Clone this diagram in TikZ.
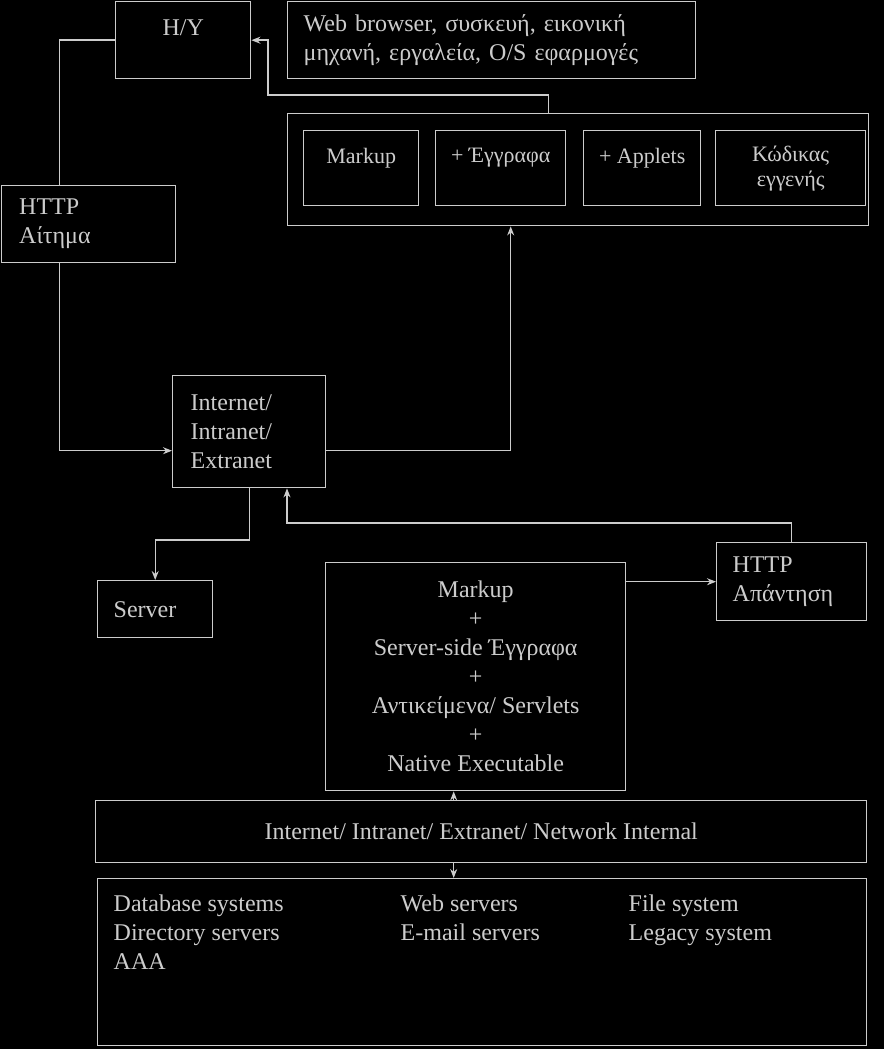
\documentclass[tikz,border=0pt]{standalone}
\usepackage{fontspec}
\setmainfont{Liberation Serif}
\usetikzlibrary{arrows, arrows.meta, positioning}
\definecolor{ink}{gray}{0.8}
\tikzstyle{box} = [rectangle, draw=ink, line width=1.4pt, text=ink, anchor=north west, inner sep=0pt, font=\fontsize{24}{29}\selectfont]
\tikzstyle{leftbox} = [box, align=left]
\tikzstyle{smallbox} = [box, minimum height=75pt, align=center, font=\fontsize{22}{25}\selectfont]
\tikzstyle{arrow} = [draw=ink, line width=1.4pt, ->, >={Stealth[length=9pt, width=7pt]}]
\tikzstyle{wire} = [draw=ink, line width=1.4pt]

\begin{document}
\begin{tikzpicture}[x=1pt, y=-1pt]
    \fill[black] (0,0) rectangle (884,1049);
    \useasboundingbox (0,0) rectangle (884,1049);

    % client side
    \node (hy)  [box, minimum width=135pt, minimum height=77pt, text depth=26pt] at (115,1) {Η/Υ};
    \node (web) [leftbox, minimum width=408pt, minimum height=77pt, text width=376pt] at (287,1) {Web browser, συσκευή, εικονική\\μηχανή, εργαλεία, O/S εφαρμογές};
    \node (grp) [box, minimum width=581pt, minimum height=112pt] at (287,113) {};
    \node (markup)  [smallbox, minimum width=115pt, text depth=25pt] at (303,130) {Markup};
    \node (script)  [smallbox, minimum width=130pt, text depth=25pt] at (435,130) {+ Έγγραφα};
    \node (applets) [smallbox, minimum width=117pt, text depth=25pt] at (583,130) {+ Applets};
    \node (native)  [smallbox, minimum width=150pt] at (715,130) {Κώδικας\\εγγενής};
    \node (req) [leftbox, minimum width=174pt, minimum height=77pt, text width=139pt] at (1,185) {HTTP\\Αίτημα};

    % network and server side
    \node (inet)   [leftbox, minimum width=153pt, minimum height=112pt, text width=117pt] at (172,375) {Internet/\\Intranet/\\Extranet};
    \node (server) [leftbox, minimum width=115pt, minimum height=57pt, text width=83pt] at (97,580) {Server};
    \node (resp)   [leftbox, minimum width=150pt, minimum height=78pt, text width=118pt] at (716,542) {HTTP\\Απάντηση};
    \node (srv)    [box, minimum width=300pt, minimum height=228pt, align=center] at (325,562) {Markup\\+\\Server-side Έγγραφα\\+\\Αντικείμενα/ Servlets\\+\\Native Executable};
    \node (net)    [box, minimum width=771pt, minimum height=62pt] at (95,800) {Internet/ Intranet/ Extranet/ Network Internal};
    \node (back)   [box, minimum width=769pt] at (97,878) {\parbox[c][167pt][t]{737pt}{%
        \rule{0pt}{33pt}\makebox[287pt][l]{Database systems}\makebox[228pt][l]{Web servers}File system\\
        \makebox[287pt][l]{Directory servers}\makebox[228pt][l]{E-mail servers}Legacy system\\
        AAA}};

    \coordinate (b1) at (268,95);
    \coordinate (b3) at (287,523);

    \draw [arrow] ([xshift=-29.5pt]grp.north) |- (b1) |- (hy.east);
    \draw [wire]  (hy.west) -| ([xshift=-29.5pt]req.north);
    \draw [arrow] ([xshift=-29.5pt]req.south) |- ([yshift=-19pt]inet.west);
    \draw [arrow] ([yshift=-19pt]inet.east) -| ([xshift=-67.5pt]grp.south);
    \draw [arrow] (inet.south) |- ([yshift=40pt]server.north) -- (server.north);
    \draw [arrow] (resp.north) |- (b3) -- (b3 |- inet.south);
    \draw [arrow] (srv.east |- resp.west) -- (resp.west);
    \draw [arrow] ([xshift=-22pt]srv.south |- net.north) -- ([xshift=-22pt]srv.south);
    \draw [arrow] ([xshift=-22pt]srv.south |- net.south) -- ([xshift=-22pt]srv.south |- back.north);
\end{tikzpicture}
\end{document}
